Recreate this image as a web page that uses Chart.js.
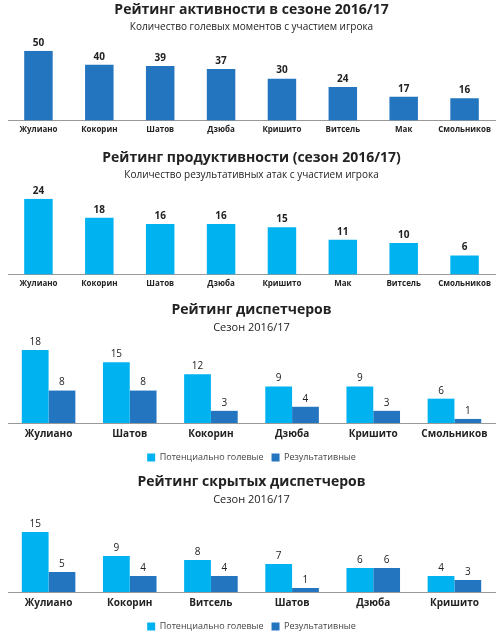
<!DOCTYPE html>
<html><head><meta charset="utf-8">
<script src="https://cdn.jsdelivr.net/npm/chart.js@4"></script>
<style>
body{margin:0;background:#fff;width:503px;height:641px;position:relative;font-family:"Open Sans",sans-serif}
.box{position:absolute;left:0;width:503px}
</style></head><body>
<div class="box" style="top:2px;height:138px"><canvas id="c1"></canvas></div>
<div class="box" style="top:150px;height:144px"><canvas id="c2"></canvas></div>
<div class="box" style="top:302px;height:170px"><canvas id="c3"></canvas></div>
<div class="box" style="top:474px;height:167px"><canvas id="c4"></canvas></div>
<script>
const dark = '#2475c0';
const light = '#00b2ef';

const players1 = ['Жулиано','Кокорин','Шатов','Дзюба','Кришито','Витсель','Мак','Смольников'];
const activity = [50,40,39,37,30,24,17,16];

const players2 = ['Жулиано','Кокорин','Шатов','Дзюба','Кришито','Мак','Витсель','Смольников'];
const productivity = [24,18,16,16,15,11,10,6];

const players3 = ['Жулиано','Шатов','Кокорин','Дзюба','Кришито','Смольников'];
const potential3 = [18,15,12,9,9,6];
const effective3 = [8,8,3,4,3,1];

const players4 = ['Жулиано','Кокорин','Витсель','Шатов','Дзюба','Кришито'];
const potential4 = [15,9,8,7,6,4];
const effective4 = [5,4,4,1,6,3];

const valueLabels = {
  id: 'valueLabels',
  afterDatasetsDraw(chart, args, opts) {
    const ctx = chart.ctx;
    ctx.save();
    ctx.fillStyle = '#222';
    ctx.textAlign = 'center';
    ctx.textBaseline = 'bottom';
    ctx.font = opts.font;
    chart.data.datasets.forEach((ds, i) => {
      chart.getDatasetMeta(i).data.forEach((bar, j) => {
        ctx.fillText(ds.data[j], bar.x, bar.y - 3);
      });
    });
    ctx.restore();
  }
};

function makeChart(id, title, subtitle, labels, datasets, opt) {
  new Chart(document.getElementById(id), {
    type: 'bar',
    data: { labels: labels, datasets: datasets },
    plugins: [valueLabels],
    options: {
      responsive: true,
      maintainAspectRatio: false,
      animation: false,
      layout: { padding: { left: 8, right: 8, top: 0, bottom: 0 } },
      plugins: {
        title: { display: true, text: title, color: '#222', font: { size: 14, weight: 'bold', family: 'Open Sans' }, padding: { top: 0, bottom: 0 } },
        subtitle: { display: true, text: subtitle, color: '#222', font: { size: opt.subSize, family: 'Open Sans' }, padding: { top: 2, bottom: opt.gap } },
        legend: {
          display: opt.legend, position: 'bottom',
          labels: { boxWidth: 8, boxHeight: 8, font: { size: 9, family: 'Open Sans' }, color: '#444', padding: 8 }
        },
        tooltip: { enabled: false },
        valueLabels: { font: opt.valueFont }
      },
      scales: {
        x: {
          grid: { display: false, drawTicks: false },
          border: { color: '#999' },
          ticks: { color: '#222', font: { size: opt.tickSize, weight: 'bold', family: 'Open Sans' }, padding: 5 }
        },
        y: { display: false, min: 0, max: opt.max }
      },
      datasets: { bar: { categoryPercentage: opt.cat, barPercentage: opt.barP } }
    }
  });
}

makeChart('c1', 'Рейтинг активности в сезоне 2016/17', 'Количество голевых моментов с участием игрока',
  players1, [{ data: activity, backgroundColor: dark }],
  { max: 50, legend: false, tickSize: 8, subSize: 10, gap: 18, valueFont: 'bold 10px "Open Sans"', cat: 0.78, barP: 0.6 });

makeChart('c2', 'Рейтинг продуктивности (сезон 2016/17)', 'Количество результативных атак с участием игрока',
  players2, [{ data: productivity, backgroundColor: light }],
  { max: 24, legend: false, tickSize: 8, subSize: 10, gap: 18, valueFont: 'bold 10px "Open Sans"', cat: 0.78, barP: 0.6 });

makeChart('c3', 'Рейтинг диспетчеров', 'Сезон 2016/17', players3,
  [{ label: 'Потенциально голевые', data: potential3, backgroundColor: light },
   { label: 'Результативные', data: effective3, backgroundColor: dark }],
  { max: 18, legend: true, tickSize: 10, subSize: 11, gap: 16, valueFont: '10px "Open Sans"', cat: 0.66, barP: 1 });

makeChart('c4', 'Рейтинг скрытых диспетчеров', 'Сезон 2016/17', players4,
  [{ label: 'Потенциально голевые', data: potential4, backgroundColor: light },
   { label: 'Результативные', data: effective4, backgroundColor: dark }],
  { max: 15, legend: true, tickSize: 10, subSize: 11, gap: 26, valueFont: '10px "Open Sans"', cat: 0.66, barP: 1 });
</script>
</body></html>
